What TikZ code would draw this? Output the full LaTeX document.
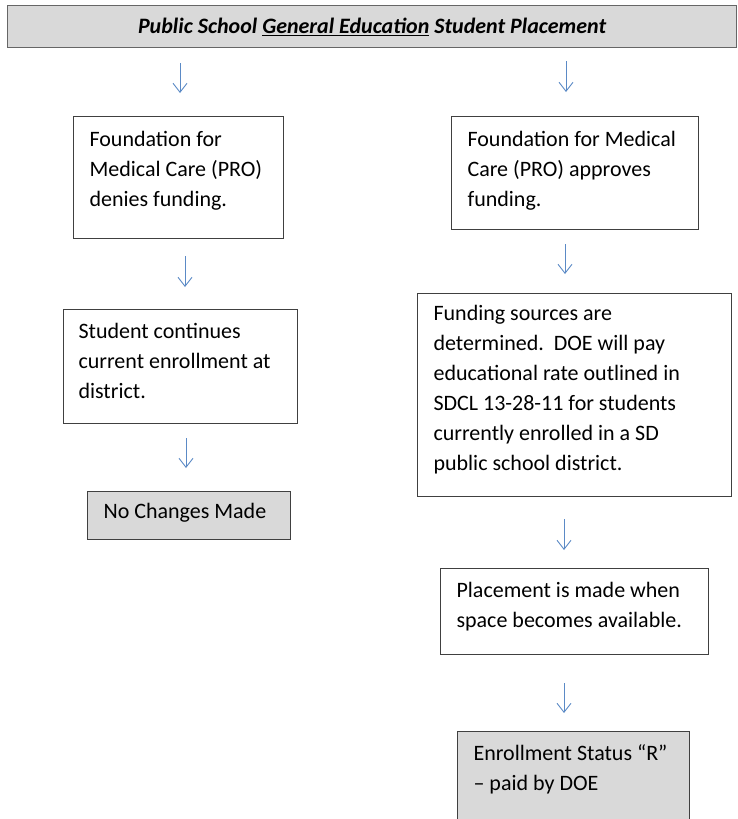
\documentclass[tikz,border=0pt]{standalone}
\usepackage{fontspec}
\setmainfont{Carlito}
\usetikzlibrary{arrows.meta}
\definecolor{boxline}{HTML}{404040}
\definecolor{boxgrey}{HTML}{D9D9D9}
\definecolor{arrblue}{HTML}{5B8AC6}
\newcommand{\btext}[5]{\parbox[t][#2][t]{#1}{\raggedright\leftskip=#3\relax\rule{0pt}{#4}#5}}
\tikzset{
  box/.style={draw=boxline, line width=1.1pt, fill=white, anchor=north west, inner sep=0pt,
              font=\fontsize{22}{30}\selectfont},
  greybox/.style={box, fill=boxgrey},
  titlebox/.style={draw=boxline!80, line width=1.2pt, fill=boxgrey, anchor=north west, inner sep=0pt,
              minimum width=729pt, minimum height=42pt, font=\fontsize{22}{24}\selectfont\bfseries\itshape},
  arr/.style={draw=arrblue, line width=0.9pt, -{Straight Barb[length=9pt,width=14pt]}}
}
\begin{document}
\begin{tikzpicture}[x=1pt,y=-1pt]
\useasboundingbox (0,0) rectangle (738,819);
\clip (0,0) rectangle (738,819);
\fill[white] (0,0) rectangle (738,819);

\node[titlebox] (title) at (7,5) {Public School \underline{General Education} Student Placement};

% left column
\node[box] (L1) at (73,116) {\btext{210pt}{122pt}{16pt}{30pt}{Foundation for\\Medical Care (PRO)\\denies funding.}};
\node[box] (L2) at (63,309) {\btext{234pt}{114pt}{15pt}{29pt}{Student continues\\current enrollment at\\district.}};
\node[greybox] (L3) at (87,491) {\btext{203pt}{48pt}{16pt}{27pt}{No Changes Made}};

% right column
\node[box] (R1) at (451,116) {\btext{247pt}{113pt}{16pt}{30pt}{Foundation for Medical\\Care (PRO) approves\\funding.}};
\node[box] (R2) at (417,293) {\btext{314pt}{203pt}{16pt}{27pt}{Funding sources are\\determined.\ \ DOE will pay\\educational rate outlined in\\SDCL 13-28-11 for students\\currently enrolled in a SD\\public school district.}};
\node[box] (R3) at (440,568) {\btext{268pt}{86pt}{16pt}{29pt}{Placement is made when\\space becomes available.}};
\node[greybox] (R4) at (457,731) {\btext{232pt}{100pt}{16pt}{29pt}{Enrollment Status “R”\\– paid by DOE}};

% arrows
\draw[arr, shorten <=15pt, shorten >=23pt] (title.south -| 180,0) -- (L1.north -| 180,0);
\draw[arr, shorten <=13pt, shorten >=24pt] (title.south -| 566,0) -- (R1.north -| 566,0);
\draw[arr, shorten <=17pt, shorten >=22pt] (L1.south -| 185,0) -- (L2.north -| 185,0);
\draw[arr, shorten <=14pt, shorten >=23pt] (L2.south -| 186,0) -- (L3.north -| 186,0);
\draw[arr, shorten <=14pt, shorten >=19pt] (R1.south -| 565,0) -- (R2.north -| 565,0);
\draw[arr, shorten <=22pt, shorten >=18pt] (R2.south -| 564,0) -- (R3.north -| 564,0);
\draw[arr, shorten <=28pt, shorten >=18pt] (R3.south -| 564,0) -- (R4.north -| 564,0);
\end{tikzpicture}
\end{document}
